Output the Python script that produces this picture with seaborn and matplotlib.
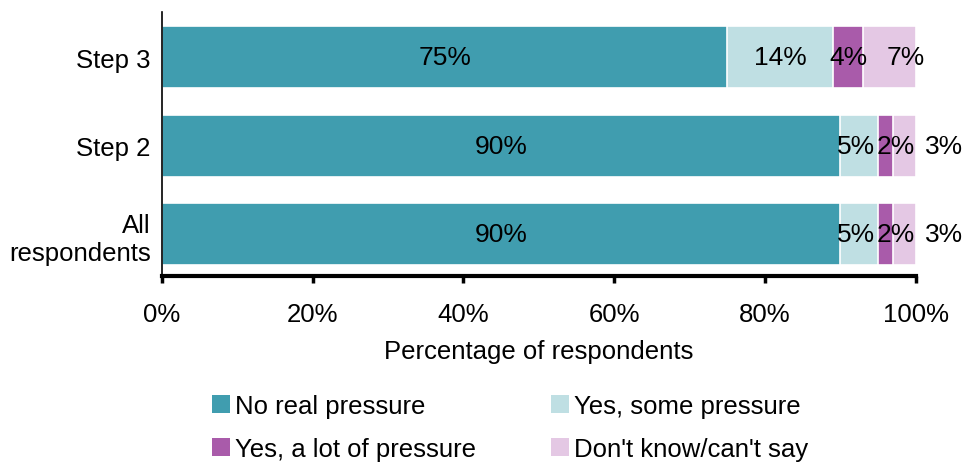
import matplotlib
matplotlib.use("Agg")
import matplotlib.pyplot as plt
from matplotlib.patches import Patch
from matplotlib.ticker import FuncFormatter
import numpy as np
import pandas as pd
import seaborn as sns

# Survey groups (top to bottom) and response categories
groups = ["Step 3", "Step 2", "All\nrespondents"]
responses = ["No real pressure", "Yes, some pressure",
             "Yes, a lot of pressure", "Don't know/can't say"]

# Percentage of respondents per response, one value per group
no_real_pressure = [75, 90, 90]
some_pressure = [14, 5, 5]
lot_of_pressure = [4, 2, 2]
dont_know = [7, 3, 3]

x_ticks = [0, 20, 40, 60, 80, 100]
colors = ["#409DAF", "#BFDFE3", "#A95BAA", "#E4C8E4"]

sns.set_theme(style="white")
plt.rcParams["font.family"] = ["Liberation Sans", "DejaVu Sans"]
plt.rcParams["text.color"] = "black"
plt.rcParams["axes.labelcolor"] = "black"
plt.rcParams["xtick.color"] = "black"
plt.rcParams["ytick.color"] = "black"
FS = 18.5
VAL_FS = 19

fig = plt.figure(figsize=(9.64, 4.64), dpi=100)
ax = fig.add_axes([0.168, 0.403, 0.782, 0.569])

series = [no_real_pressure, some_pressure, lot_of_pressure, dont_know]
cum = np.cumsum(np.array(series, dtype=float), axis=0)

# Stacked bars: draw cumulative totals from the outermost segment inward
for i in reversed(range(len(series))):
    df = pd.DataFrame({"group": groups, "end": cum[i]})
    sns.barplot(data=df, x="end", y="group", order=groups, orient="h",
                color=colors[i], saturation=1, width=0.7,
                edgecolor="white", linewidth=1.2, ax=ax)

# Value labels: centred in each segment, small trailing segments go outside,
# narrow neighbours are pushed apart a little so they do not collide
nudges = {(0, 3): 2.2,
          (1, 1): -0.4, (1, 2): 1.3,
          (2, 1): -0.4, (2, 2): 1.3}
for r in range(len(groups)):
    for j, vals in enumerate(series):
        v = vals[r]
        start = cum[j][r] - v
        x = start + v / 2
        if j == len(series) - 1 and v < 5:
            x = cum[j][r] + 3.7
        x += nudges.get((r, j), 0)
        ax.text(x, r, f"{v}%", ha="center", va="center", fontsize=VAL_FS,
                color="black")

ax.set_xlim(0, 100)
ax.set_ylim(2.47, -0.51)
ax.set_xticks(x_ticks)
ax.xaxis.set_major_formatter(FuncFormatter(lambda v, _: f"{v:.0f}%"))
ax.set_xlabel("Percentage of respondents", fontsize=FS, labelpad=9)
ax.set_ylabel("")
ax.tick_params(axis="x", direction="out", length=5, width=2.5,
               pad=14, labelsize=FS, bottom=True)
ax.tick_params(axis="y", length=0, pad=8, labelsize=FS)

for side in ["top", "right"]:
    ax.spines[side].set_visible(False)
ax.spines["left"].set_color("black")
ax.spines["left"].set_linewidth(1.2)
ax.spines["bottom"].set_color("black")
ax.spines["bottom"].set_linewidth(3)

order = [0, 2, 1, 3]
handles = [Patch(facecolor=colors[k], edgecolor="none") for k in order]
labels = [responses[k] for k in order]
fig.legend(handles, labels, ncol=2, loc="center",
           bbox_to_anchor=(0.529, 0.077), frameon=False, fontsize=FS,
           handlelength=0.7, handleheight=0.7, handletextpad=0.2,
           columnspacing=2.9, labelspacing=0.75)

fig.savefig("out.png", dpi=100)
